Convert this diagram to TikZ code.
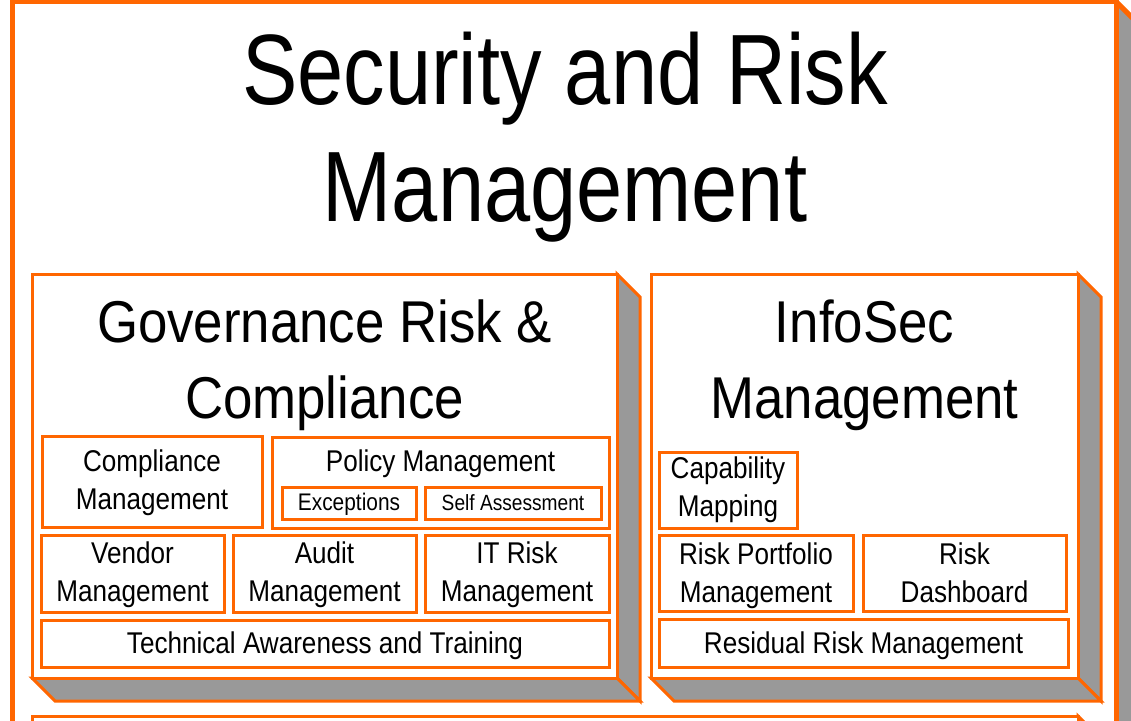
\documentclass[tikz,border=0pt]{standalone}
\usepackage{fontspec}
\setmainfont{Liberation Sans}[FakeStretch=0.87]
\newfontfamily\titlefont{Liberation Sans}[FakeStretch=0.83]
\newfontfamily\grpfont{Liberation Sans}[FakeStretch=0.895]
\definecolor{org}{HTML}{FF6600}
\definecolor{shd}{HTML}{999999}
\tikzset{
  frontface/.style={draw=org, fill=white, line width=3pt},
  sideface/.style={draw=org, fill=shd, line width=3pt},
  itembox/.style={draw=org, fill=white, line width=3pt},
  itemtext/.style={align=center, inner sep=0pt, font=\fontsize{30}{38}\selectfont},
  subtext/.style={align=center, inner sep=0pt},
  grptext/.style={align=center, inner sep=0pt, font=\grpfont\fontsize{59}{76}\selectfont},
  maintext/.style={align=center, inner sep=0pt, font=\titlefont\fontsize{100}{117}\selectfont},
}
% 3D box: style, L, T, R, B, depth
\newcommand\boxthreed[6]{%
  \filldraw[sideface,#1] (#4,#3) -- ++(#6,#6) -- (#4+#6,#5+#6) -- (#4,#5) -- cycle;
  \filldraw[sideface,#1] (#2,#5) -- ++(#6,#6) -- (#4+#6,#5+#6) -- (#4,#5) -- cycle;
  \filldraw[frontface,#1] (#2,#3) rectangle (#4,#5);
}
\begin{document}
\begin{tikzpicture}[x=1pt, y=-1pt]
\useasboundingbox (0,0) rectangle (1131,720);
\clip (0,0) rectangle (1131,720);
% outer box
\boxthreed{line width=5pt}{12.5}{1.5}{1116}{800}{24}
\node[maintext] (title) at (565,140) {\strut Security and Risk\\Management\strut};
% group boxes
\boxthreed{}{32}{274}{617}{678}{23}
\boxthreed{}{651}{274}{1078}{678}{23}
\boxthreed{}{32}{716}{1078}{800}{23}
\node[grptext] (grc) at (324.5,364.8) {\strut Governance Risk \&\\Compliance\strut};
\node[grptext] (infosec) at (864.5,364.8) {\strut InfoSec\\Management\strut};
% GRC items
\draw[itembox] (42,436) rectangle (262,527);
\node[itemtext] (cmpl) at (152,482.4) {\strut Compliance\\Management\strut};
\draw[itembox] (272,437) rectangle (609,528);
\node[itemtext] (policy) at (440.5,463.9) {\strut Policy Management};
\draw[itembox] (282,487) rectangle (416,519);
\node[subtext, font=\fontsize{24}{27}\selectfont] (exc) at (349,504.6) {\strut Exceptions};
\draw[itembox] (425,487) rectangle (601,519);
\node[subtext, font=\fontsize{22}{27}\selectfont] (self) at (513,504.6) {\strut Self Assessment};
\draw[itembox] (41,535) rectangle (224,612);
\node[itemtext] (vendor) at (132.5,574.4) {\strut Vendor\\Management\strut};
\draw[itembox] (233,535) rectangle (416,612);
\node[itemtext] (audit) at (324.5,574.4) {\strut Audit\\Management\strut};
\draw[itembox] (425,535) rectangle (609,612);
\node[itemtext] (itrisk) at (517,574.4) {\strut IT Risk\\Management\strut};
\draw[itembox] (41,620) rectangle (609,667);
\node[itemtext] (tech) at (325,645.4) {\strut Technical Awareness and Training};
% InfoSec items
\draw[itembox] (659,452) rectangle (797,528);
\node[itemtext] (capab) at (728,489.4) {\strut Capability\\Mapping\strut};
\draw[itembox] (659,535) rectangle (853,611);
\node[itemtext] (portf) at (756,575.4) {\strut Risk Portfolio\\Management\strut};
\draw[itembox] (863,535) rectangle (1066,611);
\node[itemtext] (dash) at (964.5,575.4) {\strut Risk\\Dashboard\strut};
\draw[itembox] (659,619) rectangle (1068,667);
\node[itemtext] (resid) at (863.5,645.4) {\strut Residual Risk Management};
\end{tikzpicture}
\end{document}
